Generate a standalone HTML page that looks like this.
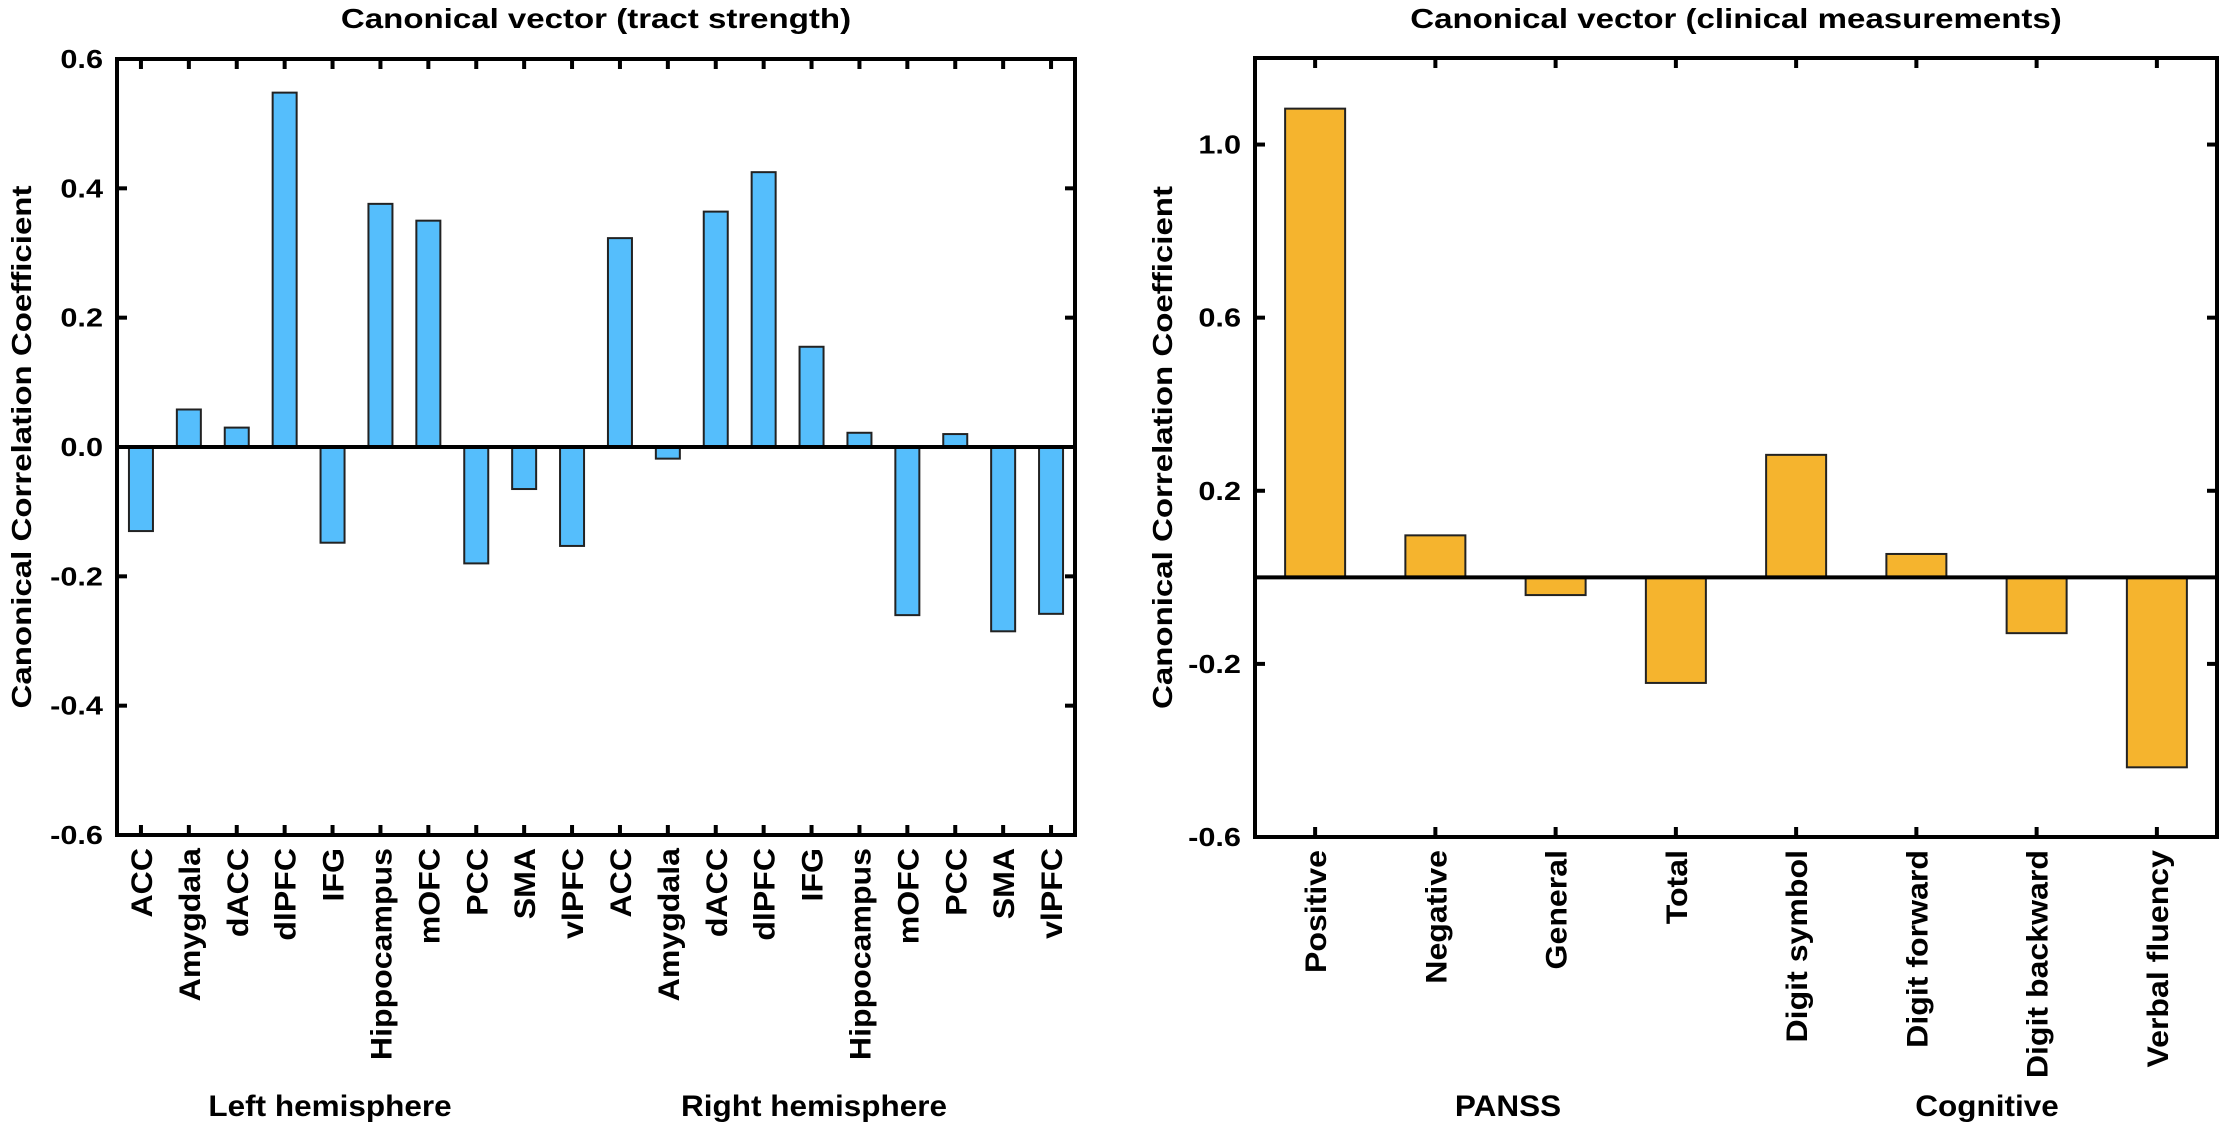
<!DOCTYPE html>
<html><head><meta charset="utf-8"><style>
html,body{margin:0;padding:0;background:#fff;}
svg{display:block;font-family:"Liberation Sans",Arial,sans-serif;font-weight:bold;}
</style></head><body>
<svg id="chart" width="2220" height="1130" viewBox="0 0 2220 1130" xmlns="http://www.w3.org/2000/svg"></svg>
<script>
const leftCategories = ["ACC","Amygdala","dACC","dlPFC","IFG","Hippocampus","mOFC","PCC","SMA","vlPFC","ACC","Amygdala","dACC","dlPFC","IFG","Hippocampus","mOFC","PCC","SMA","vlPFC"];
const leftValues = [-0.13,0.058,0.03,0.548,-0.148,0.376,0.35,-0.18,-0.065,-0.153,0.323,-0.018,0.364,0.425,0.155,0.022,-0.26,0.02,-0.285,-0.258];
const leftTicks = [0.6,0.4,0.2,0.0,-0.2,-0.4,-0.6];
const leftTickLabels = ["0.6","0.4","0.2","0.0","-0.2","-0.4","-0.6"];
const leftGroups = ["Left hemisphere","Right hemisphere"];
const rightCategories = ["Positive","Negative","General","Total","Digit symbol","Digit forward","Digit backward","Verbal fluency"];
const rightValues = [1.083,0.097,-0.041,-0.244,0.283,0.054,-0.129,-0.439];
const rightTicks = [1.0,0.6,0.2,-0.2,-0.6];
const rightTickLabels = ["1.0","0.6","0.2","-0.2","-0.6"];
const rightGroups = ["PANSS","Cognitive"];

const NS="http://www.w3.org/2000/svg";
const SX=1.18, SC=1.07, SG=1.05;
const svg=document.getElementById('chart');
function mk(tag,attrs,parent){const e=document.createElementNS(NS,tag);for(const k in attrs)e.setAttribute(k,attrs[k]);(parent||svg).appendChild(e);return e;}

function drawChart(cfg){
  const g=mk('g',{});
  
  
  const {x0,x1,y0,y1,vmin,vmax}=cfg;
  const yScale=v=>y1-(v-vmin)/(vmax-vmin)*(y1-y0);
  const n=cfg.cats.length, band=(x1-x0)/n;
  const xc=i=>x0+band*(i+0.5);
  cfg.vals.forEach((v,i)=>{
    const yv=yScale(v), yz=yScale(0);
    const r=mk('rect',{x:xc(i)-cfg.bw/2,y:Math.min(yv,yz),width:cfg.bw,height:Math.abs(yv-yz),fill:cfg.color,stroke:'#222',"stroke-width":2},g);
    
    
  });
  const z=mk('line',{x1:x0,x2:x1,y1:yScale(0),y2:yScale(0),stroke:'#000',"stroke-width":4},g);
  
  
  const f=mk('rect',{x:x0,y:y0,width:x1-x0,height:y1-y0,fill:'none',stroke:'#000',"stroke-width":4},g);
  
  
  cfg.cats.forEach((c,i)=>{
    const x=xc(i);
    mk('line',{x1:x,x2:x,y1:y1,y2:y1-10,stroke:'#000',"stroke-width":4},g);
    mk('line',{x1:x,x2:x,y1:y0,y2:y0+10,stroke:'#000',"stroke-width":4},g);
    const t=mk('text',{x:0,y:0,transform:`translate(${x+11},${y1+13}) rotate(-90) scale(${SC},1)`,"text-anchor":"end","font-size":30},g);
    t.textContent=c;
    
    
  });
  cfg.ticks.forEach((v,i)=>{
    const y=yScale(v);
    mk('line',{x1:x0,x2:x0+10,y1:y,y2:y,stroke:'#000',"stroke-width":4},g);
    mk('line',{x1:x1,x2:x1-10,y1:y,y2:y,stroke:'#000',"stroke-width":4},g);
    const t=mk('text',{x:0,y:0,transform:`translate(${x0-14},${y+9}) scale(${SX},1)`,"text-anchor":"end","font-size":26},g);
    t.textContent=cfg.tickLabels[i];
    
    
  });
  const tt=mk('text',{x:0,y:0,transform:`translate(${(x0+x1)/2},28) scale(${SX},1)`,"text-anchor":"middle","font-size":28},g);
  tt.textContent=cfg.title;
  
  
  const yt=mk('text',{x:0,y:0,transform:`translate(${cfg.ytx},${(y0+y1)/2}) rotate(-90) scale(${SX},1)`,"text-anchor":"middle","font-size":28},g);
  yt.textContent="Canonical Correlation Coefficient";
  
  
  cfg.groups.forEach((gname,i)=>{
    const t=mk('text',{x:0,y:0,transform:`translate(${cfg.groupX[i]},1116) scale(${SG},1)`,"text-anchor":"middle","font-size":30},g);
    t.textContent=gname;
    
    
  });
}
drawChart({name:'tract-strength-chart',x0:117,x1:1075,y0:59,y1:835,vmin:-0.6,vmax:0.6,cats:leftCategories,vals:leftValues,ticks:leftTicks,tickLabels:leftTickLabels,bw:24,color:'#55BEFC',title:'Canonical vector (tract strength)',ytx:31,groups:leftGroups,groupX:[330,814]});
drawChart({name:'clinical-measurements-chart',x0:1255,x1:2217,y0:58,y1:837,vmin:-0.6,vmax:1.2,cats:rightCategories,vals:rightValues,ticks:rightTicks,tickLabels:rightTickLabels,bw:60,color:'#F5B42E',title:'Canonical vector (clinical measurements)',ytx:1172,groups:rightGroups,groupX:[1508,1987]});
</script>
</body></html>
